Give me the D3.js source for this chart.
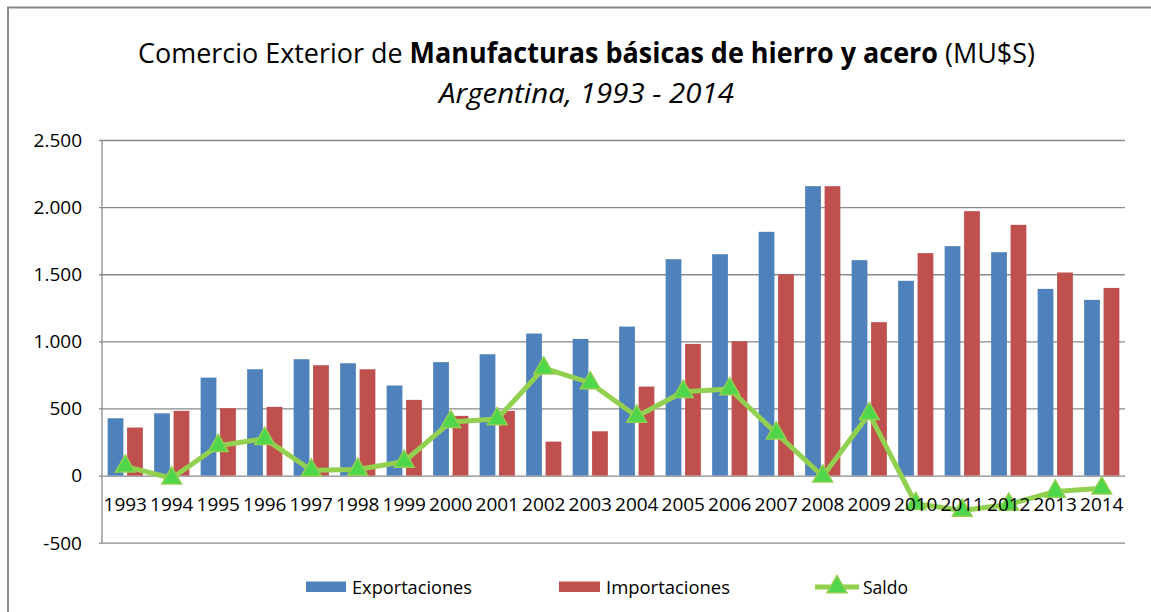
<!DOCTYPE html>
<html>
<head>
<meta charset="utf-8">
<script src="https://cdn.jsdelivr.net/npm/d3@7"></script>
<style>
  html, body { margin: 0; padding: 0; background: #ffffff; }
  svg { display: block; font-family: "Open Sans", "Noto Sans", sans-serif; }
</style>
</head>
<body>
<svg id="chart" width="1151" height="612"></svg>
<script>
// ---- Data ----
const years = ["1993","1994","1995","1996","1997","1998","1999","2000","2001","2002","2003","2004","2005","2006","2007","2008","2009","2010","2011","2012","2013","2014"];
const exportaciones = [427,464,730,792,867,837,671,845,904,1058,1018,1110,1612,1649,1816,2156,1605,1451,1709,1664,1391,1309];
const importaciones = [358,482,502,512,822,792,564,445,482,253,330,663,981,1001,1500,2156,1143,1657,1970,1868,1513,1398];
const saldo = [69,-20,222,275,40,45,105,400,422,800,690,440,625,645,315,-5,460,-210,-260,-215,-118,-95];
const yTicks = [-500,0,500,1000,1500,2000,2500];
const seriesNames = ["Exportaciones","Importaciones","Saldo"];
const titleRegular1 = "Comercio Exterior de ";
const titleBold = "Manufacturas básicas de hierro y acero";
const titleRegular2 = " (MU$S)";
const subtitle = "Argentina, 1993 - 2014";

// ---- Layout ----
const W = 1151, H = 612;
const plot = { left: 102, right: 1125, top: 140, bottom: 542.7 };
const colors = { exp: "#4F81BD", imp: "#C0504D", line: "#92D050", marker: "#4FD64A", grid: "#8a8a8a", border: "#8a8a8a" };

const svg = d3.select("#chart");
svg.append("rect").attr("width", W).attr("height", H).attr("fill", "#fff");

// outer chart border (cropped: top and left visible)
svg.append("path")
  .attr("d", `M8,${H} L8,7.5 L${W},7.5`)
  .attr("fill", "none").attr("stroke", colors.border).attr("stroke-width", 2);

const locale = d3.formatLocale({ decimal: ",", thousands: ".", grouping: [3], currency: ["$", ""], minus: "-" });
const fmt = locale.format(",.0f");

const x0 = d3.scaleBand().domain(years).range([plot.left, plot.right]).paddingInner(0).paddingOuter(0);
const x1 = d3.scaleBand().domain(["exp","imp"]).range([0, x0.bandwidth()]).paddingInner(0.19).paddingOuter(0.29);
const y = d3.scaleLinear().domain([-500, 2500]).range([plot.bottom, plot.top]);

// gridlines
const gridAxis = d3.axisLeft(y).tickValues(yTicks).tickSize(-(plot.right - plot.left)).tickFormat("");
const gg = svg.append("g").attr("transform", `translate(${plot.left},0)`).call(gridAxis);
gg.select(".domain").remove();
gg.selectAll(".tick line").attr("stroke", colors.grid).attr("stroke-width", 1.3).attr("x1", -3);

// vertical axis line
svg.append("line")
  .attr("x1", plot.left).attr("x2", plot.left)
  .attr("y1", y(2500)).attr("y2", y(-500))
  .attr("stroke", colors.grid).attr("stroke-width", 1.3);

// y labels
svg.append("g").selectAll("text").data(yTicks).join("text")
  .attr("x", 82).attr("y", d => y(d) + 6.8)
  .attr("text-anchor", "end")
  .attr("font-size", 19).attr("fill", "#000")
  .text(d => fmt(d));

// bars
const bars = svg.append("g");
bars.selectAll("rect.exp").data(years).join("rect").attr("class", "exp")
  .attr("x", (d) => x0(d) + x1("exp"))
  .attr("width", x1.bandwidth())
  .attr("y", (d, i) => y(Math.max(0, exportaciones[i])))
  .attr("height", (d, i) => Math.abs(y(exportaciones[i]) - y(0)))
  .attr("fill", colors.exp);
bars.selectAll("rect.imp").data(years).join("rect").attr("class", "imp")
  .attr("x", (d) => x0(d) + x1("imp"))
  .attr("width", x1.bandwidth())
  .attr("y", (d, i) => y(Math.max(0, importaciones[i])))
  .attr("height", (d, i) => Math.abs(y(importaciones[i]) - y(0)))
  .attr("fill", colors.imp);

// saldo line
const line = d3.line()
  .x((d, i) => x0(years[i]) + x0.bandwidth() / 2)
  .y(d => y(d));
svg.append("path").datum(saldo)
  .attr("d", line)
  .attr("fill", "none").attr("stroke", colors.line).attr("stroke-width", 5)
  .attr("stroke-linejoin", "round");

const tri = d3.symbol().type(d3.symbolTriangle).size(170);
svg.append("g").selectAll("path").data(saldo).join("path")
  .attr("d", tri)
  .attr("transform", (d, i) => `translate(${x0(years[i]) + x0.bandwidth() / 2},${y(d)})`)
  .attr("fill", colors.marker).attr("stroke", colors.line).attr("stroke-width", 1.5);

// x labels (at zero line)
svg.append("g").selectAll("text").data(years).join("text")
  .attr("x", d => x0(d) + x0.bandwidth() / 2)
  .attr("y", 510.5)
  .attr("text-anchor", "middle")
  .attr("font-size", 19).attr("fill", "#000")
  .text(d => d);

// title
const tg = svg.append("g");
const tt = tg.append("text").attr("text-anchor", "middle").attr("font-size", 28).attr("fill", "#000");
tt.append("tspan").text(titleRegular1);
tt.append("tspan").attr("font-weight", "bold").text(titleBold);
tt.append("tspan").text(titleRegular2);
const tw = tt.node().getBBox().width;
tg.attr("transform", `translate(586.5,63) scale(${897 / tw},1)`);

const sg = svg.append("g");
const st = sg.append("text").attr("text-anchor", "middle").attr("font-size", 28)
  .attr("font-style", "italic").attr("fill", "#000").text(subtitle);
const sw = st.node().getBBox().width;
sg.attr("transform", `translate(586.5,103) scale(${297 / sw},1)`);

// legend
const lg = svg.append("g");
lg.append("rect").attr("x", 306).attr("y", 581.5).attr("width", 40).attr("height", 10.5).attr("fill", colors.exp);
lg.append("text").attr("x", 352).attr("y", 593.5).attr("font-size", 18)
  .attr("textLength", 120).attr("lengthAdjust", "spacingAndGlyphs").text(seriesNames[0]);
lg.append("rect").attr("x", 559).attr("y", 581.5).attr("width", 41).attr("height", 10.5).attr("fill", colors.imp);
lg.append("text").attr("x", 606).attr("y", 593.5).attr("font-size", 18)
  .attr("textLength", 124).attr("lengthAdjust", "spacingAndGlyphs").text(seriesNames[1]);
lg.append("line").attr("x1", 815).attr("x2", 859).attr("y1", 587).attr("y2", 587)
  .attr("stroke", colors.line).attr("stroke-width", 5);
lg.append("path").attr("d", tri).attr("transform", "translate(837,587)")
  .attr("fill", colors.marker).attr("stroke", colors.line).attr("stroke-width", 1.5);
lg.append("text").attr("x", 863).attr("y", 593.5).attr("font-size", 18)
  .attr("textLength", 45).attr("lengthAdjust", "spacingAndGlyphs").text(seriesNames[2]);
</script>
</body>
</html>
